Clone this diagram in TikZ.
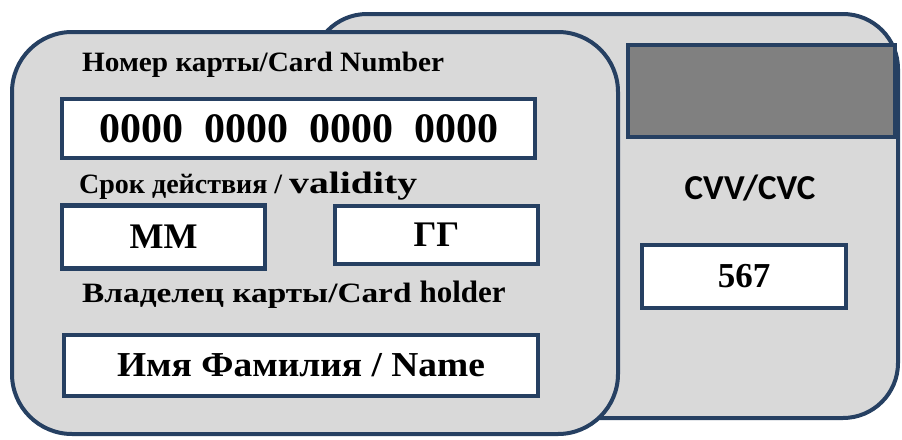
\documentclass[tikz,border=0pt]{standalone}
\usepackage{graphicx}
\usepackage{fontspec}
\setmainfont{Liberation Serif}
\newfontfamily\cardsans{Carlito}
\definecolor{cardedge}{RGB}{38,64,98}
\definecolor{cardbody}{RGB}{217,217,217}
\definecolor{stripe}{RGB}{128,128,128}
\newcommand{\widetext}[2]{\scalebox{#1}[1]{#2}}
\tikzset{
  card/.style={draw=cardedge, fill=cardbody, line width=4pt},
  field/.style={draw=cardedge, fill=white, line width=4.5pt, inner sep=0pt},
  caption/.style={inner sep=0pt, anchor=base west, font=\bfseries\fontsize{28}{32}\selectfont},
}
\begin{document}
\begin{tikzpicture}[x=1pt,y=-1pt]
\useasboundingbox (0,0) rectangle (902,439);
% back side of the card
\draw[card, rounded corners=55pt] (312,14) rectangle (898,418);
\draw[draw=cardedge, fill=stripe, line width=4pt] (628,45) rectangle (895,137);
\node[font=\cardsans\bfseries\fontsize{35}{38}\selectfont] (cvvlabel) at (750,188) {CVV/CVC};
\node[field, minimum width=204pt, minimum height=63pt] (cvv) at (744,276.5)
  {\bfseries\fontsize{35}{40}\selectfont 567};
% front side of the card
\draw[card, rounded corners=60pt] (12,32) rectangle (618,434);
\node[caption] (numlabel) at (82,71) {\widetext{1.045}{Номер карты/Card Number}};
\node[field, minimum width=473pt, minimum height=59pt] (number) at (298.5,128.5)
  {\bfseries\fontsize{42}{48}\selectfont 0000\enspace0000\enspace0000\enspace0000};
\node[caption] (validlabel) at (79,193)
  {Срок действия / \widetext{1.28}{\fontsize{31}{34}\selectfont validity}};
\node[field, minimum width=203pt, minimum height=63pt] (month) at (163.5,237)
  {\bfseries\fontsize{36}{40}\selectfont MM};
\node[field, minimum width=203pt, minimum height=58pt] (year) at (436.5,235)
  {\bfseries\fontsize{36}{40}\selectfont ГГ};
\node[caption] (holderlabel) at (82,302)
  {\widetext{1.19}{Владелец карты/Card}\hspace{8pt}{\fontsize{31}{34}\selectfont holder}};
\node[field, minimum width=474pt, minimum height=61pt] (name) at (301,365.5)
  {\widetext{1.07}{\bfseries\fontsize{35}{40}\selectfont Имя Фамилия / Name}};
\end{tikzpicture}
\end{document}
